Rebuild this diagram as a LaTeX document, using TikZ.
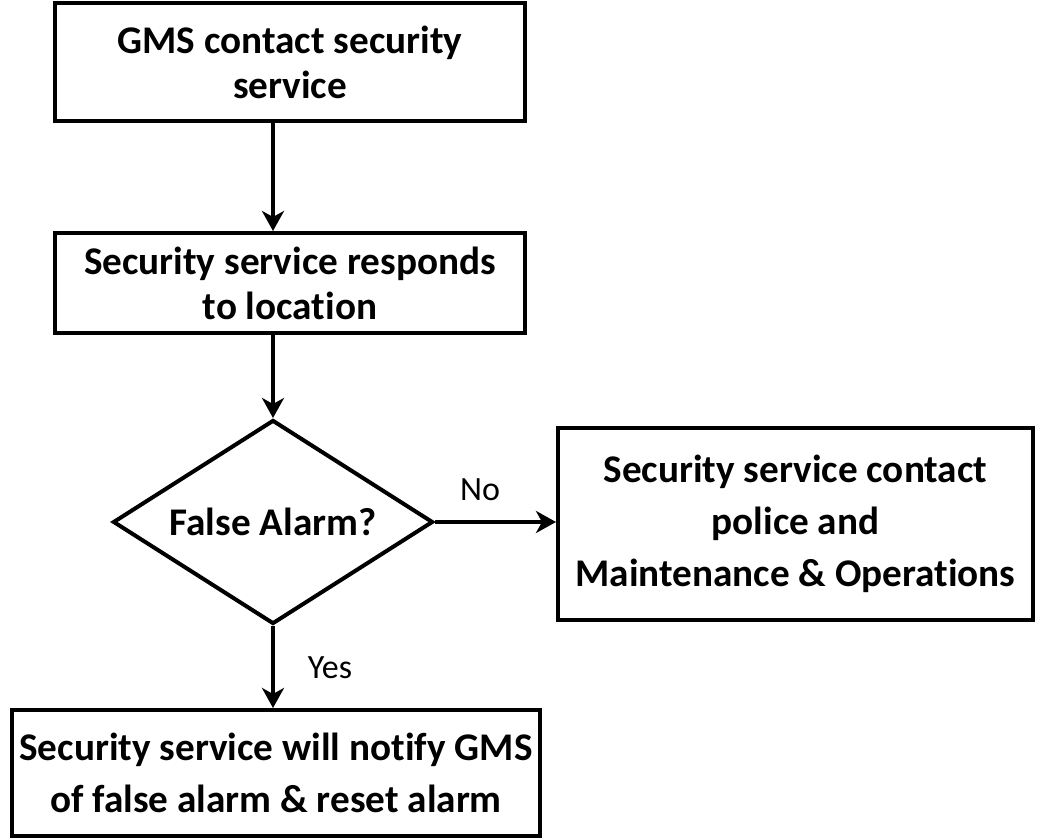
\documentclass[tikz,border=0pt]{standalone}
\usepackage{fontspec}
\setmainfont{Carlito}[Ligatures=NoCommon]
\usetikzlibrary{shapes.geometric,arrows.meta}
\begin{document}
\begin{tikzpicture}[x=0.5pt,y=-0.5pt,
  box/.style={draw,line width=2pt,align=center,inner sep=0pt,
    font=\fontsize{19.6}{22.5}\selectfont\bfseries},
  widebox/.style={box,font=\fontsize{19.6}{26}\selectfont\bfseries},
  decision/.style={draw,diamond,line width=2pt,inner sep=0pt,
    minimum width=160pt,minimum height=102pt},
  dtext/.style={inner sep=0pt,font=\fontsize{19.6}{22.5}\selectfont\bfseries},
  lbl/.style={font=\fontsize{17}{20}\selectfont,inner sep=0pt},
  arr/.style={line width=2pt,-{Stealth[length=10pt,width=11pt,inset=3pt]}}]
\useasboundingbox (0,0) rectangle (1040,839);
\node[box,minimum width=235pt,minimum height=59pt] (b1) at (290,62)
  {GMS contact security\\service};
\node[box,minimum width=235pt,minimum height=50pt] (b2) at (290,283)
  {Security service responds\\to location};
\node[decision] (d) at (273,522) {};
\node[dtext] (dt) at (d.center) {False Alarm?};
\node[widebox,minimum width=237.5pt,minimum height=96pt] (b3) at (795.5,524)
  {Security service contact\\police and\\Maintenance \& Operations};
\node[widebox,minimum width=264pt,minimum height=63pt] (b4) at (276,773)
  {Security service will notify GMS\\of false alarm \& reset alarm};
\node[lbl] (no) at (480,490) {No};
\node[lbl] (yes) at (330,668) {Yes};
\draw[arr] (b1.south -| d.north) -- (b2.north -| d.north);
\draw[arr] (b2.south -| d.north) -- (d.north);
\draw[arr] (d.east) -- (d.east -| b3.west);
\draw[arr] (d.south) -- (b4.north -| d.south);
\end{tikzpicture}
\end{document}
